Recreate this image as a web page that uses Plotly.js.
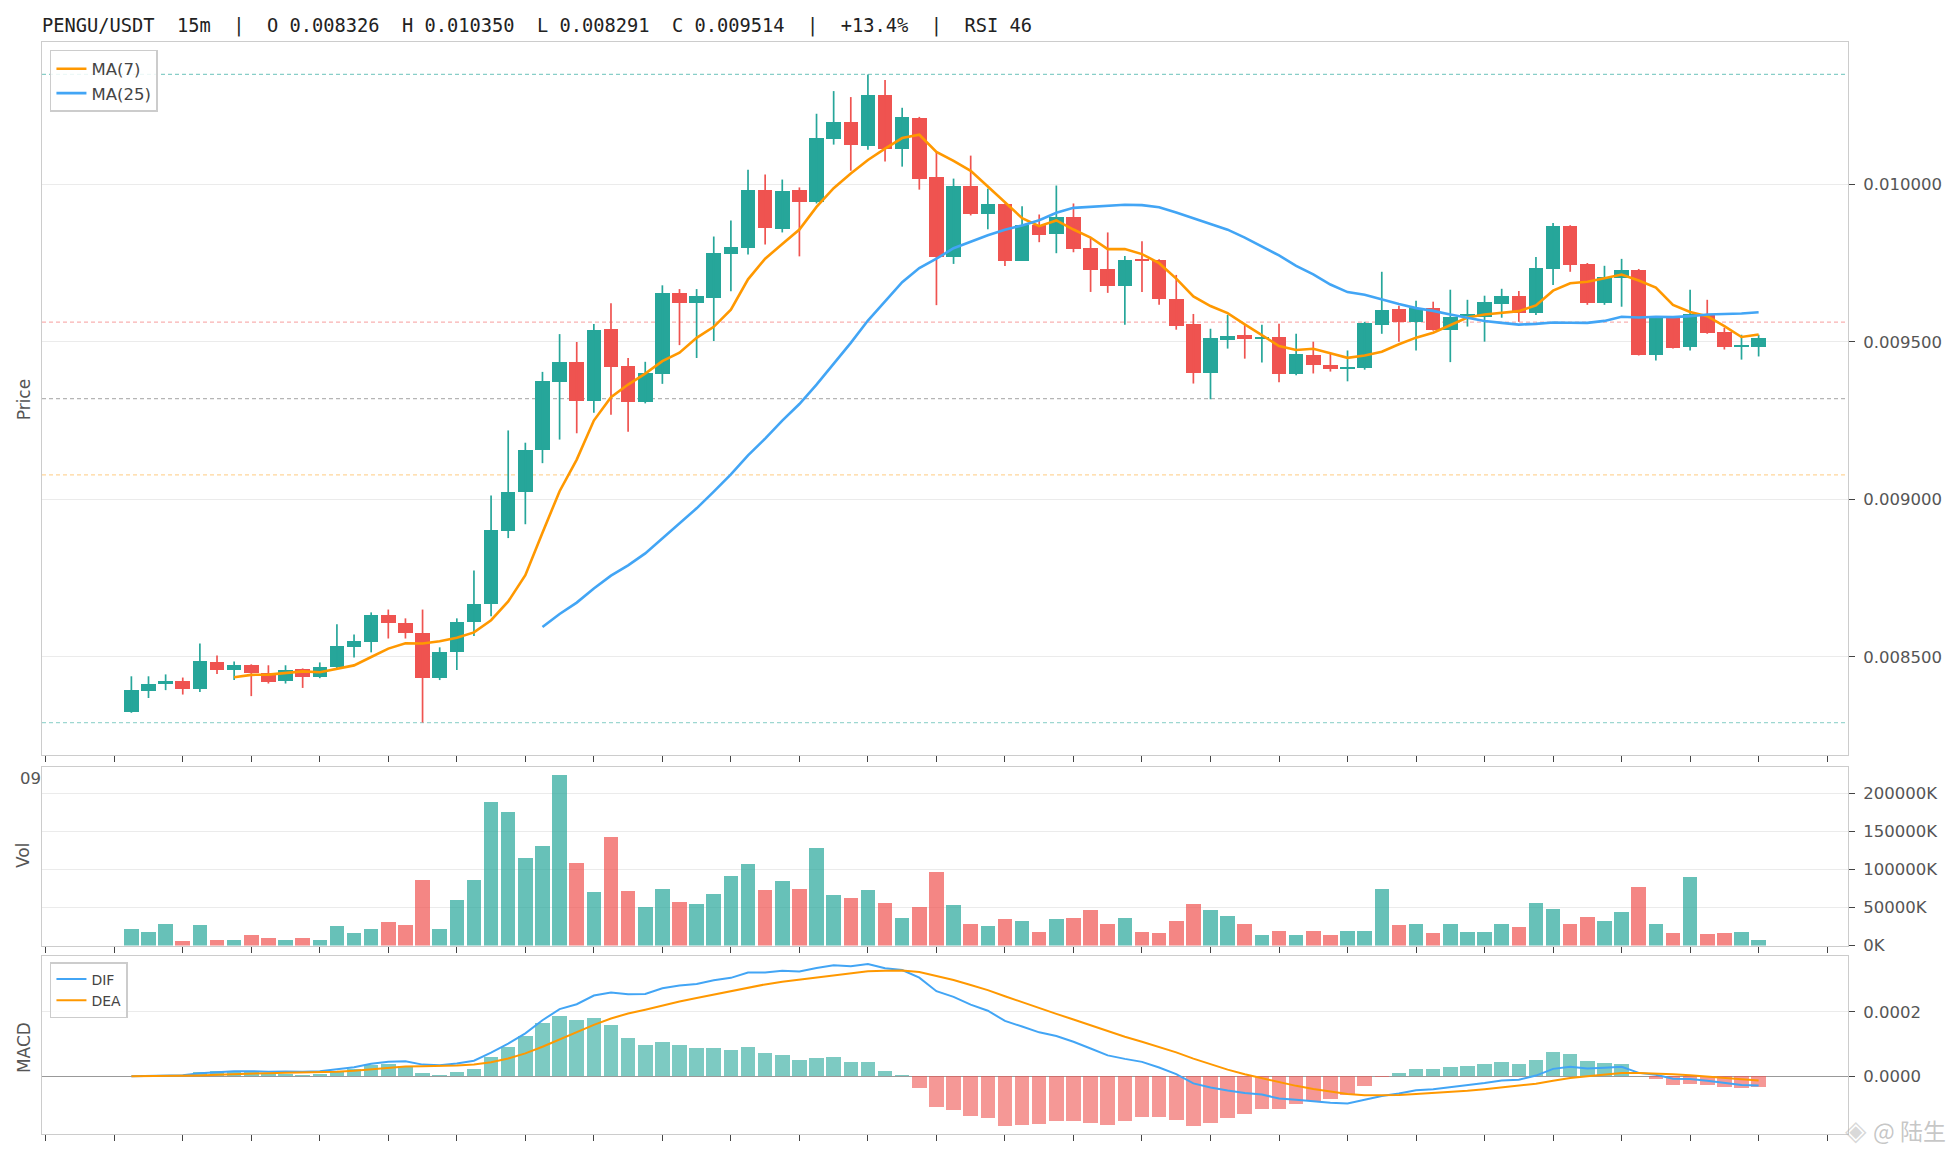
<!DOCTYPE html>
<html><head><meta charset="utf-8">
<script src="https://cdn.plot.ly/plotly-3.0.1.min.js"></script>
<style>html,body{margin:0;padding:0;background:#fff}#chart{width:1956px;height:1156px}</style>
</head><body><div id="chart"></div>
<script>
// ---------------- data ----------------
const titleText = 'PENGU/USDT  15m  |  O 0.008326  H 0.010350  L 0.008291  C 0.009514  |  +13.4%  |  RSI 46';

const opens = [0.008326,0.008391,0.008412,0.008422,0.008397,0.008482,0.008458,0.008473,0.008448,0.008422,
0.008460,0.008435,0.008466,0.008530,0.008547,0.008634,0.008606,0.008574,0.008431,0.008514,
0.008609,0.008667,0.008899,0.009025,0.009158,0.009373,0.009437,0.009314,0.009541,0.009424,
0.009308,0.009399,0.009655,0.009623,0.009639,0.009778,0.009797,0.009984,0.009858,0.009984,
0.009946,0.010146,0.010199,0.010123,0.010285,0.010114,0.010212,0.010025,0.009771,0.009994,
0.009905,0.009937,0.009757,0.009871,0.009842,0.009896,0.009798,0.009732,0.009678,0.009763,
0.009760,0.009637,0.009558,0.009403,0.009507,0.009523,0.009511,0.009517,0.009397,0.009460,
0.009428,0.009413,0.009416,0.009555,0.009605,0.009564,0.009609,0.009539,0.009583,0.009580,
0.009621,0.009647,0.009593,0.009732,0.009868,0.009748,0.009624,0.009704,0.009729,0.009460,
0.009577,0.009485,0.009590,0.009533,0.009485,0.009485];
const highs = [0.008438,0.008438,0.008444,0.008434,0.008542,0.008504,0.008485,0.008476,0.008473,0.008473,
0.008463,0.008482,0.008603,0.008571,0.008641,0.008650,0.008622,0.008650,0.008530,0.008622,
0.008774,0.009012,0.009219,0.009180,0.009405,0.009525,0.009500,0.009557,0.009623,0.009449,
0.009437,0.009680,0.009668,0.009668,0.009835,0.009886,0.010047,0.010032,0.010016,0.009991,
0.010225,0.010297,0.010278,0.010350,0.010332,0.010244,0.010215,0.010104,0.010019,0.010092,
0.009987,0.009940,0.009931,0.009905,0.009997,0.009940,0.009833,0.009848,0.009773,0.009820,
0.009763,0.009713,0.009589,0.009542,0.009586,0.009555,0.009555,0.009558,0.009526,0.009501,
0.009463,0.009473,0.009564,0.009723,0.009615,0.009631,0.009628,0.009666,0.009634,0.009647,
0.009669,0.009662,0.009770,0.009878,0.009871,0.009751,0.009742,0.009764,0.009732,0.009580,
0.009580,0.009666,0.009634,0.009545,0.009523,0.009523];
const lows = [0.008322,0.008369,0.008394,0.008380,0.008388,0.008445,0.008426,0.008375,0.008415,0.008415,
0.008401,0.008432,0.008463,0.008498,0.008514,0.008558,0.008558,0.008291,0.008426,0.008458,
0.008566,0.008629,0.008877,0.008921,0.009115,0.009190,0.009210,0.009275,0.009269,0.009215,
0.009305,0.009367,0.009490,0.009449,0.009503,0.009661,0.009778,0.009810,0.009848,0.009772,
0.009940,0.010127,0.010044,0.010111,0.010073,0.010057,0.009984,0.009617,0.009748,0.009902,
0.009858,0.009741,0.009757,0.009817,0.009782,0.009785,0.009659,0.009656,0.009555,0.009659,
0.009618,0.009539,0.009368,0.009318,0.009479,0.009447,0.009435,0.009372,0.009394,0.009400,
0.009406,0.009375,0.009412,0.009526,0.009501,0.009473,0.009536,0.009436,0.009549,0.009501,
0.009577,0.009564,0.009586,0.009681,0.009723,0.009618,0.009618,0.009612,0.009457,0.009441,
0.009479,0.009473,0.009526,0.009476,0.009444,0.009454];
const closes = [0.008393,0.008415,0.008422,0.008397,0.008485,0.008458,0.008473,0.008448,0.008420,0.008457,
0.008435,0.008466,0.008533,0.008549,0.008634,0.008607,0.008575,0.008431,0.008514,0.008612,
0.008669,0.008904,0.009025,0.009158,0.009377,0.009437,0.009314,0.009538,0.009421,0.009308,
0.009402,0.009655,0.009623,0.009646,0.009782,0.009801,0.009984,0.009861,0.009981,0.009946,
0.010149,0.010199,0.010127,0.010285,0.010114,0.010215,0.010019,0.009769,0.009997,0.009905,
0.009937,0.009757,0.009871,0.009839,0.009896,0.009795,0.009728,0.009678,0.009760,0.009758,
0.009637,0.009552,0.009400,0.009514,0.009520,0.009511,0.009517,0.009397,0.009463,0.009428,
0.009413,0.009419,0.009561,0.009602,0.009564,0.009609,0.009539,0.009580,0.009590,0.009628,
0.009647,0.009593,0.009735,0.009868,0.009745,0.009624,0.009707,0.009729,0.009460,0.009577,
0.009482,0.009590,0.009530,0.009485,0.009487,0.009514];
// volume in thousands (axis labels carry the "K")
const volumesK = [21100,18400,27600,5300,26300,7900,6600,13200,10500,6600,
10500,6600,25000,15800,21100,30300,26300,85500,21100,59200,
85500,188200,175000,114500,130300,223700,107900,69700,142100,71100,
50000,73700,56600,53900,67100,90800,106600,72400,84200,73700,
127600,65800,61800,72400,55300,35500,50000,96100,52600,28900,
25000,34200,31600,18400,34200,35500,46100,27600,35500,18400,
15800,31600,53900,46100,38200,28900,13200,19700,13200,19700,
13200,19700,19700,73700,26300,27600,15800,28900,17100,18400,
27600,23700,55300,47400,28900,36800,31600,43400,76300,28900,
15800,89500,14500,15800,18400,7900];
// horizontal reference levels (high, 0.618, 0.5, 0.382, low)
const levelValues = [0.010350,0.009563,0.009320,0.009078,0.008291];
const levelNames = ['high','0.618','0.5','0.382','low'];

// ---------------- styles ----------------
const UP = '#26a69a', DN = '#ef5350';
const UP_V = 'rgba(38,166,154,0.70)', DN_V = 'rgba(239,83,80,0.70)';
const UP_H = 'rgba(38,166,154,0.60)', DN_H = 'rgba(239,83,80,0.60)';
const ORANGE = '#ff9800', BLUE = '#42a5f5';
const levelColors = ['rgba(38,166,154,0.55)','rgba(239,83,80,0.45)','rgba(120,120,120,0.55)','rgba(255,152,0,0.40)','rgba(38,166,154,0.45)'];
const TICKC = '#555', GRIDC = '#ebebeb', BORDER = '#cccccc';

// ---------------- derived ----------------
const idx = closes.map((_, i) => i);
const isUp = closes.map((c, i) => c >= opens[i]);
function sma(arr, n){ return arr.map((_, i) => i < n-1 ? null : arr.slice(i-n+1, i+1).reduce((a,b)=>a+b,0)/n); }
function ema(arr, n){ const a = 2/(n+1); const out=[]; arr.forEach((v,i)=>out.push(i===0? v : a*v+(1-a)*out[i-1])); return out; }
const ma7 = sma(closes, 7), ma25 = sma(closes, 25);
const e12 = ema(closes, 12), e26 = ema(closes, 26);
const dif = e12.map((v,i)=>v-e26[i]);
const dea = ema(dif, 9);
const hist = dif.map((v,i)=>2*(v-dea[i]));

// wicks
function wickTrace(up){
  const xs=[], ys=[];
  idx.forEach(i=>{ if(isUp[i]===up){ xs.push(i,i,null); ys.push(lows[i],highs[i],null);} });
  return {type:'scatter',mode:'lines',x:xs,y:ys,xaxis:'x',yaxis:'y',line:{color:up?UP:DN,width:1.7},hoverinfo:'skip',showlegend:false};
}
const minBody = 0.000004;
const bodyBase = idx.map(i=>Math.min(opens[i],closes[i]));
const bodyH = idx.map(i=>Math.max(Math.abs(closes[i]-opens[i]), minBody));

const hi = Math.max(...highs), lo = Math.min(...lows), pr = hi-lo;
const volTop = Math.max(...volumesK)*1.05;
const allM = dif.concat(dea, hist);
const mMax = Math.max(...allM), mMin = Math.min(...allM), mr = mMax-mMin;
const xr = [-0.425-0.05*95.85, 95.425+0.05*95.85];

const traces = [
  wickTrace(true), wickTrace(false),
  {type:'bar',x:idx,y:bodyH,base:bodyBase,width:0.85,xaxis:'x',yaxis:'y',
   marker:{color:idx.map(i=>isUp[i]?UP:DN),line:{width:0}},hoverinfo:'skip',showlegend:false},
  {type:'scatter',mode:'lines',name:'MA(7)',x:idx,y:ma7,xaxis:'x',yaxis:'y',line:{color:ORANGE,width:2.6},legend:'legend'},
  {type:'scatter',mode:'lines',name:'MA(25)',x:idx,y:ma25,xaxis:'x',yaxis:'y',line:{color:BLUE,width:2.6},legend:'legend'},
  {type:'bar',x:idx,y:volumesK,width:0.85,xaxis:'x2',yaxis:'y2',
   marker:{color:idx.map(i=>isUp[i]?UP_V:DN_V),line:{width:0}},hoverinfo:'skip',showlegend:false},
  {type:'bar',x:idx,y:hist,width:0.85,xaxis:'x3',yaxis:'y3',
   marker:{color:hist.map(v=>v>=0?UP_H:DN_H),line:{width:0}},hoverinfo:'skip',showlegend:false},
  {type:'scatter',mode:'lines',name:'DIF',x:idx,y:dif,xaxis:'x3',yaxis:'y3',line:{color:BLUE,width:2},legend:'legend2'},
  {type:'scatter',mode:'lines',name:'DEA',x:idx,y:dea,xaxis:'x3',yaxis:'y3',line:{color:ORANGE,width:2},legend:'legend2'}
];

const tickFont = {family:'DejaVu Sans, sans-serif', size:16.5, color:TICKC};
function xAx(anchor){
  return {anchor:anchor, range:xr, showgrid:false, zeroline:false, showline:true, mirror:true, linecolor:BORDER, linewidth:1,
    ticks:'outside', ticklen:6, tickwidth:1, tickcolor:'#444', tickmode:'linear', tick0:-5, dtick:4, showticklabels:false, fixedrange:true};
}
function yAx(anchor, domain, range, extra){
  return Object.assign({anchor:anchor, domain:domain, range:range, side:'right', showgrid:true, gridcolor:GRIDC, gridwidth:1,
    zeroline:false, showline:true, mirror:true, linecolor:BORDER, linewidth:1, ticks:'outside', ticklen:6, tickwidth:1,
    tickcolor:'#444', tickfont:tickFont, ticklabelstandoff:5, automargin:false, fixedrange:true}, extra);
}

const shapes = levelValues.map((v,i)=>({type:'line',xref:'x domain',x0:0,x1:1,yref:'y',y0:v,y1:v,
  line:{color:levelColors[i],width:1.2,dash:'4px,3px'},layer:'below'}));

const axTitleFont = {family:'DejaVu Sans, sans-serif', size:17, color:TICKC};
const annotations = [
  {text:'Price',xref:'paper',yref:'paper',x:-0.0099,y:0.672,textangle:-90,showarrow:false,font:axTitleFont,xanchor:'center',yanchor:'middle'},
  {text:'Vol',xref:'paper',yref:'paper',x:-0.0105,y:0.2546,textangle:-90,showarrow:false,font:axTitleFont,xanchor:'center',yanchor:'middle'},
  {text:'MACD',xref:'paper',yref:'paper',x:-0.0099,y:0.0788,textangle:-90,showarrow:false,font:axTitleFont,xanchor:'center',yanchor:'middle'},
  {text:'09',xref:'paper',yref:'paper',x:0.0008,y:0.3255,showarrow:false,font:tickFont,xanchor:'right',yanchor:'middle'},
  {text:'@ 陆生',xref:'paper',yref:'paper',x:1.0125,y:0.0035,showarrow:false,xanchor:'left',yanchor:'middle',
   font:{family:'Noto Sans CJK SC, sans-serif',size:23,color:'rgba(150,150,150,0.55)'}},
  {text:'◈',xref:'paper',yref:'paper',x:1.0042,y:0.0035,showarrow:false,xanchor:'center',yanchor:'middle',
   font:{family:'DejaVu Sans, sans-serif',size:28,color:'rgba(170,170,170,0.45)'}}
];

const layout = {
  width:1956, height:1156,
  margin:{l:42, r:108, t:42, b:22, pad:0},
  paper_bgcolor:'#ffffff', plot_bgcolor:'#ffffff',
  title:{text:titleText.replace(/ /g,'\u00a0'), x:0, xref:'paper', xanchor:'left', y:1-25/1156, yref:'container', yanchor:'middle',
    font:{family:'DejaVu Sans Mono, monospace', size:18.7, color:'#222'}, automargin:false},
  barmode:'overlay', bargap:0,
  showlegend:true,
  legend:{x:0.0044, y:0.9927, xanchor:'left', yanchor:'top', bgcolor:'rgba(255,255,255,0.85)', bordercolor:'#cccccc', borderwidth:1.5,
    font:{family:'DejaVu Sans, sans-serif', size:16.5, color:'#444'}, itemwidth:30, tracegroupgap:0},
  legend2:{x:0.0044, y:0.1575, xanchor:'left', yanchor:'top', bgcolor:'rgba(255,255,255,0.85)', bordercolor:'#cccccc', borderwidth:1.5,
    font:{family:'DejaVu Sans, sans-serif', size:14, color:'#444'}, itemwidth:30, tracegroupgap:0},
  xaxis:xAx('y'), xaxis2:xAx('y2'), xaxis3:xAx('y3'),
  yaxis:yAx('x',[0.3471,1],[lo-0.05*pr, hi+0.05*pr],{tickmode:'linear',tick0:0,dtick:0.0005,tickformat:'.6f'}),
  yaxis2:yAx('x2',[0.1726,0.3365],[0,volTop],{tickmode:'linear',tick0:0,dtick:50000,tickformat:'d',ticksuffix:'K'}),
  yaxis3:yAx('x3',[0,0.1630],[mMin-0.05*mr, mMax+0.05*mr],{tickmode:'linear',tick0:0,dtick:0.0002,tickformat:'.4f',
    zeroline:true, zerolinecolor:'#999', zerolinewidth:1.2}),
  shapes:shapes, annotations:annotations, hovermode:false
};

Plotly.newPlot('chart', traces, layout, {displayModeBar:false, staticPlot:true});
</script></body></html>
